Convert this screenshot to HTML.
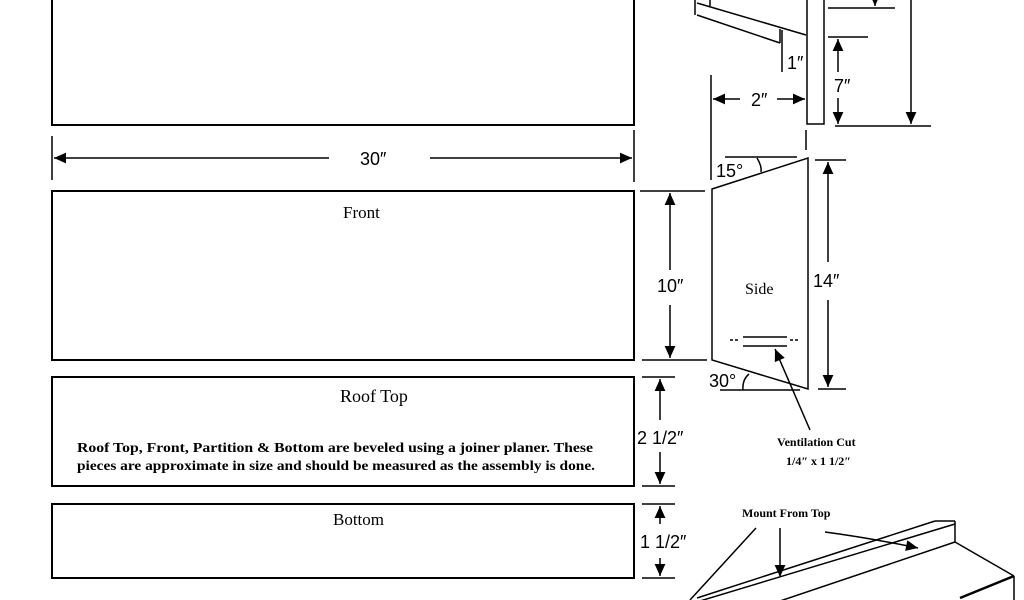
<!DOCTYPE html>
<html><head><meta charset="utf-8"><style>
html,body{margin:0;padding:0;background:#fff;width:1024px;height:600px;overflow:hidden}
svg{display:block}
.a{font-family:"Liberation Sans",sans-serif;font-size:18px}
.s{font-family:"Liberation Serif",serif}
</style></head><body>
<svg width="1024" height="600" viewBox="0 0 1024 600" xmlns="http://www.w3.org/2000/svg" stroke="#000" fill="none" stroke-width="1.5">
<defs>
<marker id="ar" viewBox="0 0 10 10" refX="10" refY="5" markerWidth="14" markerHeight="12" orient="auto-start-reverse" markerUnits="userSpaceOnUse"><path d="M0,0.5 L10,5 L0,9.5 z" fill="#000" stroke="none"/></marker>
</defs>
<rect x="52" y="-5" width="582" height="130" stroke-width="2"/>
<rect x="52" y="191" width="582" height="169" stroke-width="2"/>
<rect x="52" y="377" width="582" height="109" stroke-width="2"/>
<rect x="52" y="504" width="582" height="74" stroke-width="2"/>
<line x1="52" y1="136" x2="52" y2="180"/>
<line x1="634" y1="130" x2="634" y2="182"/>
<line x1="54" y1="158" x2="329" y2="158" marker-start="url(#ar)"/>
<line x1="430" y1="158" x2="632" y2="158" marker-end="url(#ar)"/>
<g stroke="none" fill="#000">
<text x="360" y="165" class="a">30″</text>
<text x="343" y="218" class="s" font-size="17">Front</text>
<text x="340" y="402" class="s" font-size="18">Roof Top</text>
<text x="77" y="452" class="s" font-size="14" font-weight="bold" textLength="516" lengthAdjust="spacingAndGlyphs">Roof Top, Front, Partition &amp; Bottom  are beveled using a joiner planer.  These</text>
<text x="77" y="470" class="s" font-size="14" font-weight="bold" textLength="518" lengthAdjust="spacingAndGlyphs">pieces are approximate in size and should be measured as the assembly is done.</text>
<text x="333" y="525" class="s" font-size="17">Bottom</text>
<text x="657" y="292" class="a">10″</text>
<text x="637" y="444" class="a">2 1/2″</text>
<text x="640" y="548" class="a">1 1/2″</text>
<text x="745" y="294" class="s" font-size="16">Side</text>
<text x="813" y="287" class="a">14″</text>
<text x="716" y="177" class="a">15°</text>
<text x="709" y="387" class="a">30°</text>
<text x="751" y="106" class="a">2″</text>
<text x="787" y="69" class="a">1″</text>
<text x="834" y="92" class="a">7″</text>
<text x="777" y="446" class="s" font-size="12" font-weight="bold">Ventilation Cut</text>
<text x="786" y="465" class="s" font-size="12" font-weight="bold">1/4″ x 1 1/2″</text>
<text x="742" y="517" class="s" font-size="12" font-weight="bold">Mount From Top</text>
</g>
<line x1="640" y1="191" x2="705" y2="191"/>
<line x1="642" y1="360" x2="707" y2="360"/>
<line x1="670" y1="193" x2="670" y2="270" marker-start="url(#ar)"/>
<line x1="670" y1="305" x2="670" y2="358" marker-end="url(#ar)"/>
<line x1="642" y1="377" x2="675" y2="377"/>
<line x1="642" y1="486" x2="675" y2="486"/>
<line x1="660" y1="379" x2="660" y2="420" marker-start="url(#ar)"/>
<line x1="660" y1="452" x2="660" y2="484" marker-end="url(#ar)"/>
<line x1="642" y1="504" x2="675" y2="504"/>
<line x1="642" y1="578" x2="675" y2="578"/>
<line x1="660" y1="506" x2="660" y2="524" marker-start="url(#ar)"/>
<line x1="660" y1="558" x2="660" y2="576" marker-end="url(#ar)"/>
<path d="M712,189 L808,158 L808,389 L712,360 Z"/>
<line x1="725" y1="157" x2="797" y2="157"/>
<path d="M757,158 Q762,166 761,172"/>
<line x1="720" y1="390" x2="800" y2="390"/>
<path d="M743,390 Q742,380 749,374"/>
<line x1="815" y1="160" x2="846" y2="160"/>
<line x1="818" y1="389" x2="846" y2="389"/>
<line x1="828" y1="162" x2="828" y2="262" marker-start="url(#ar)"/>
<line x1="828" y1="300" x2="828" y2="387" marker-end="url(#ar)"/>
<line x1="743" y1="337" x2="787" y2="337"/>
<line x1="743" y1="346" x2="787" y2="346"/>
<line x1="730" y1="340" x2="740" y2="340" stroke-dasharray="3,2"/>
<line x1="790" y1="340" x2="800" y2="340" stroke-dasharray="3,2"/>
<line x1="810" y1="430" x2="775" y2="349" marker-end="url(#ar)"/>
<rect x="807" y="-5" width="17" height="129"/>
<line x1="697" y1="3" x2="806" y2="35"/>
<line x1="697" y1="15" x2="780" y2="43"/>
<line x1="695" y1="0" x2="695" y2="15"/>
<line x1="710" y1="0" x2="710" y2="6"/>
<line x1="780" y1="29" x2="780" y2="43"/>
<line x1="782" y1="30" x2="782" y2="72"/>
<line x1="711" y1="75" x2="711" y2="180"/>
<line x1="806" y1="130" x2="806" y2="150"/>
<line x1="713" y1="99" x2="740" y2="99" marker-start="url(#ar)"/>
<line x1="777" y1="99" x2="805" y2="99" marker-end="url(#ar)"/>
<line x1="828" y1="37" x2="868" y2="37"/>
<line x1="835" y1="126" x2="931" y2="126"/>
<line x1="828" y1="8" x2="895" y2="8"/>
<line x1="838" y1="39" x2="838" y2="72" marker-start="url(#ar)"/>
<line x1="838" y1="98" x2="838" y2="124" marker-end="url(#ar)"/>
<line x1="911" y1="-2" x2="911" y2="124" marker-end="url(#ar)"/>
<line x1="875" y1="-4" x2="875" y2="6" marker-end="url(#ar)"/>
<line x1="697" y1="598" x2="935" y2="521"/>
<line x1="935" y1="521" x2="955" y2="521"/>
<line x1="700" y1="601" x2="955" y2="524"/>
<line x1="780" y1="601" x2="955" y2="542"/>
<line x1="955" y1="521" x2="955" y2="542"/>
<line x1="955" y1="542" x2="1014" y2="576"/>
<line x1="960" y1="598" x2="1014" y2="576" stroke-width="2.5"/>
<line x1="1014" y1="576" x2="1014" y2="600"/>
<line x1="780" y1="528" x2="780" y2="577" marker-end="url(#ar)"/>
<line x1="756" y1="528" x2="690" y2="600"/>
<path d="M825,532 Q870,538 918,548" marker-end="url(#ar)"/>
</svg>
</body></html>
